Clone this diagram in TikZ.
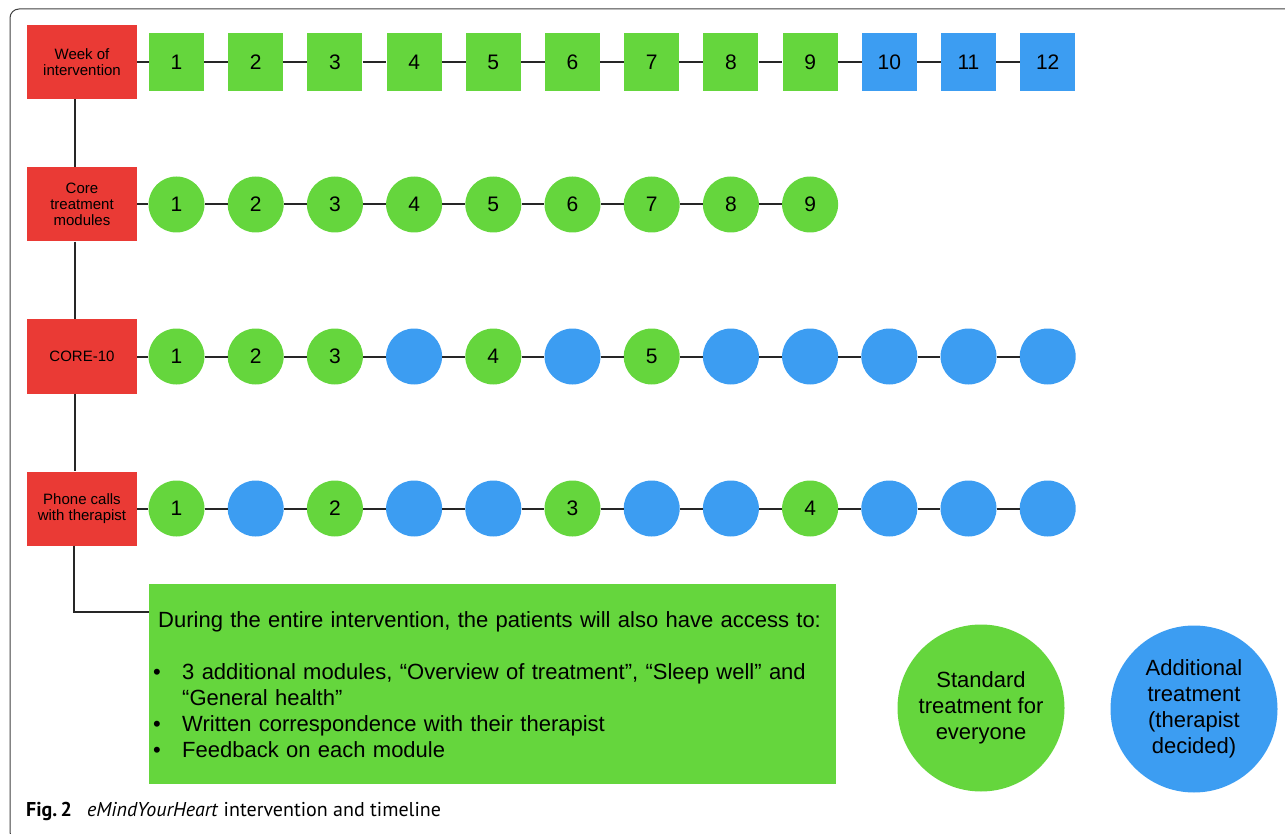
\documentclass[tikz,border=0pt]{standalone}
\usepackage{fontspec}
\setmainfont{Liberation Sans}
\newfontfamily\captionfont{PT Sans}
\usepackage{xcolor}
\usepackage{tikz}
\usetikzlibrary{positioning}

\definecolor{stdgreen}{RGB}{101,214,61}
\definecolor{addblue}{RGB}{60,157,242}
\definecolor{rowred}{RGB}{234,58,53}

\begin{document}
\begin{tikzpicture}[
    x=1pt, y=-1pt,
    node distance=152pt and 79.2pt, on grid,
    rowhead/.style={rectangle, fill=rowred, minimum width=110pt, minimum height=74pt, align=center, inner sep=1pt, font=\fontsize{15}{16}\selectfont},
    wkstd/.style={rectangle, fill=stdgreen, minimum width=55pt, minimum height=58pt, inner sep=0pt, font=\fontsize{21}{24}\selectfont},
    wkadd/.style={wkstd, fill=addblue},
    modstd/.style={circle, fill=stdgreen, minimum size=56pt, inner sep=0pt, font=\fontsize{21}{24}\selectfont},
    modadd/.style={modstd, fill=addblue},
    note/.style={rectangle, fill=stdgreen, minimum width=687pt, minimum height=200pt, text width=679pt, inner xsep=4pt, align=left, font=\fontsize{22}{26}\selectfont},
    legendkey/.style={circle, minimum size=167pt, inner sep=0pt, align=center, font=\fontsize{22}{26}\selectfont},
    link/.style={line width=2pt, black!85},
    frame/.style={line width=1pt, black!75, rounded corners=9pt},
]
\useasboundingbox (0,0) rectangle (1285,834);

% --- Outer frame ---
\draw[frame] (1300,9) -- (10,9) -- (10,841) -- (40,841);

% --- Week of intervention ---
\node[rowhead] (weekhd) at (82,62) {Week of\\intervention};
\node[wkstd, right=94.5pt of weekhd] (w1) {1};
\node[wkstd, right=of w1] (w2) {2};
\node[wkstd, right=of w2] (w3) {3};
\node[wkstd, right=of w3] (w4) {4};
\node[wkstd, right=of w4] (w5) {5};
\node[wkstd, right=of w5] (w6) {6};
\node[wkstd, right=of w6] (w7) {7};
\node[wkstd, right=of w7] (w8) {8};
\node[wkstd, right=of w8] (w9) {9};
\node[wkadd, right=of w9] (w10) {10};
\node[wkadd, right=of w10] (w11) {11};
\node[wkadd, right=of w11] (w12) {12};

\draw[link] (weekhd) -- (w1) -- (w2) -- (w3) -- (w4) -- (w5) -- (w6) -- (w7) -- (w8) -- (w9) -- (w10) -- (w11) -- (w12);

% --- Core treatment modules ---
\node[rowhead, below=142.5pt of weekhd] (corehd) {Core\\treatment\\modules};
\node[modstd, right=94.5pt of corehd] (c1) {1};
\node[modstd, right=of c1] (c2) {2};
\node[modstd, right=of c2] (c3) {3};
\node[modstd, right=of c3] (c4) {4};
\node[modstd, right=of c4] (c5) {5};
\node[modstd, right=of c5] (c6) {6};
\node[modstd, right=of c6] (c7) {7};
\node[modstd, right=of c7] (c8) {8};
\node[modstd, right=of c8] (c9) {9};

\draw[link] (corehd) -- (c1) -- (c2) -- (c3) -- (c4) -- (c5) -- (c6) -- (c7) -- (c8) -- (c9);

% --- CORE-10 ---
\node[rowhead, below=of corehd] (scorehd) {CORE-10};
\node[modstd, right=94.5pt of scorehd] (s1) {1};
\node[modstd, right=of s1] (s2) {2};
\node[modstd, right=of s2] (s3) {3};
\node[modadd, right=of s3] (s4) {};
\node[modstd, right=of s4] (s5) {4};
\node[modadd, right=of s5] (s6) {};
\node[modstd, right=of s6] (s7) {5};
\node[modadd, right=of s7] (s8) {};
\node[modadd, right=of s8] (s9) {};
\node[modadd, right=of s9] (s10) {};
\node[modadd, right=of s10] (s11) {};
\node[modadd, right=of s11] (s12) {};

\draw[link] (scorehd) -- (s1) -- (s2) -- (s3) -- (s4) -- (s5) -- (s6) -- (s7) -- (s8) -- (s9) -- (s10) -- (s11) -- (s12);

% --- Phone calls ---
\node[rowhead, below=of scorehd] (phonehd) {Phone calls\\with therapist};
\node[modstd, right=94.5pt of phonehd] (p1) {1};
\node[modadd, right=of p1] (p2) {};
\node[modstd, right=of p2] (p3) {2};
\node[modadd, right=of p3] (p4) {};
\node[modadd, right=of p4] (p5) {};
\node[modstd, right=of p5] (p6) {3};
\node[modadd, right=of p6] (p7) {};
\node[modadd, right=of p7] (p8) {};
\node[modstd, right=of p8] (p9) {4};
\node[modadd, right=of p9] (p10) {};
\node[modadd, right=of p10] (p11) {};
\node[modadd, right=of p11] (p12) {};

\draw[link] (phonehd) -- (p1) -- (p2) -- (p3) -- (p4) -- (p5) -- (p6) -- (p7) -- (p8) -- (p9) -- (p10) -- (p11) -- (p12);

% Row heads linked top to bottom
\draw[link] ([xshift=-7pt]weekhd.south) -- ([xshift=-7pt]corehd.north);
\draw[link] ([xshift=-7pt]corehd.south) -- ([xshift=-7pt]scorehd.north);
\draw[link] ([xshift=-7pt]scorehd.south) -- ([xshift=-7pt]phonehd.north);

% --- Access during the whole intervention ---
\node[note, anchor=north west] (note) at (149,584) {\hspace*{5pt}During the entire intervention, the patients will also have access to:\\[26pt]
\makebox[29pt][l]{\textbullet}3 additional modules, “Overview of treatment”, “Sleep well” and\\
\hspace*{29pt}“General health”\\
\makebox[29pt][l]{\textbullet}Written correspondence with their therapist\\
\makebox[29pt][l]{\textbullet}Feedback on each module};

\draw[link] ([xshift=-8pt]phonehd.south) |- ([yshift=-28pt]note.north west);

% --- Legend ---
\node[legendkey, fill=stdgreen] (stdkey) at (981,708) {Standard\\treatment for\\everyone};
\node[legendkey, fill=addblue] (addkey) at (1194,709) {Additional\\treatment\\(therapist\\decided)};

% Caption
\node[anchor=base west, inner sep=0pt, font=\captionfont\fontsize{20}{22}\selectfont] (caption) at (26,816) {\textbf{Fig.\,2}\hspace{0.75em}\textit{eMindYourHeart} intervention and timeline};

\end{tikzpicture}
\end{document}
